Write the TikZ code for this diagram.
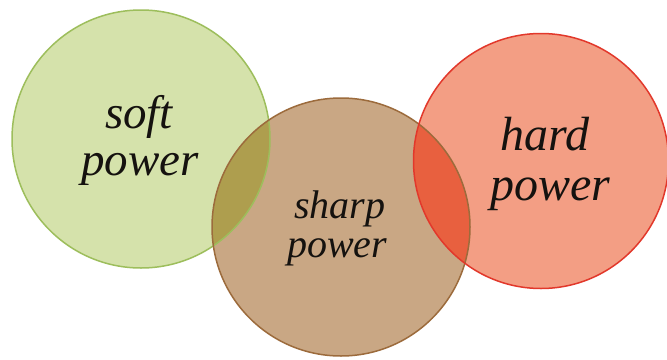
\documentclass[tikz,border=0pt]{standalone}
\usepackage{fontspec}
\setmainfont{Liberation Serif}[ItalicFont={Liberation Serif Italic}]
\definecolor{gfill}{HTML}{D5E2AB}
\definecolor{gline}{HTML}{9DBE5C}
\definecolor{bfill}{HTML}{C9A784}
\definecolor{bline}{HTML}{9C6B3C}
\definecolor{rfill}{HTML}{F39E84}
\definecolor{rline}{HTML}{E2382B}
\definecolor{gbover}{HTML}{AE9E4E}
\definecolor{brover}{HTML}{E8603F}
\definecolor{txt}{HTML}{15120F}
\tikzset{
  lbl/.style={anchor=base, text=txt, inner sep=0pt},
  ring/.style={line width=1.5pt}
}
\begin{document}
\begin{tikzpicture}[x=1pt,y=-1pt]
\useasboundingbox (0,0) rectangle (667,359);
\fill[white] (0,0) rectangle (667,359);
\coordinate (G) at (141,139);
\coordinate (B) at (341,227);
\coordinate (R) at (541,161);
\fill[gfill] (G) circle[radius=129];
\fill[bfill] (B) circle[radius=129];
\fill[rfill] (R) circle[radius=127.5];
\begin{scope}
  \clip (G) circle[radius=129];
  \fill[gbover] (B) circle[radius=129];
\end{scope}
\begin{scope}
  \clip (R) circle[radius=127.5];
  \fill[brover] (B) circle[radius=129];
\end{scope}
\draw[ring, gline] (G) circle[radius=129];
\draw[ring, bline] (B) circle[radius=129];
\draw[ring, rline] (R) circle[radius=127.5];
\node[lbl, font=\fontsize{47}{47}\selectfont\itshape] (s1) at (139,128) {soft};
\node[lbl, font=\fontsize{47}{47}\selectfont\itshape] (s2) at (140,175) {power};
\node[lbl, font=\fontsize{40}{40}\selectfont\itshape] (p1) at (340,218) {sharp};
\node[lbl, font=\fontsize{40}{40}\selectfont\itshape] (p2) at (337,257) {power};
\node[lbl, font=\fontsize{48}{50}\selectfont\itshape] (h1) at (545,150) {hard};
\node[lbl, font=\fontsize{48}{50}\selectfont\itshape] (h2) at (550,200) {power};
\end{tikzpicture}
\end{document}
